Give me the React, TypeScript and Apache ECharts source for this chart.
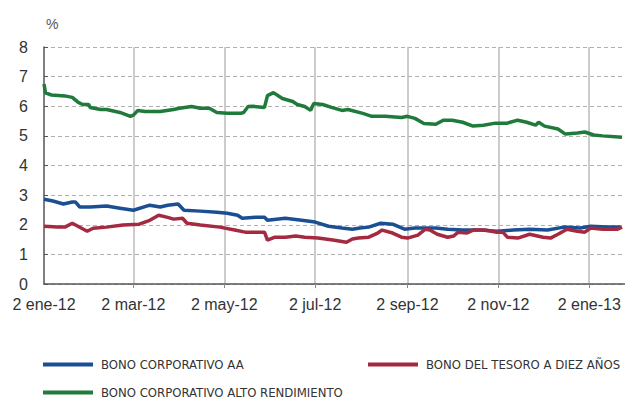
import React, { useEffect, useRef } from "react";
import * as echarts from "echarts";

// Day offsets counted from 2 ene-12 (day 0)
const START_DATE = { y: 2012, m: 0, d: 2 };
const DAY_COUNT = 391;
const LABEL_DAYS = [0, 60, 121, 182, 244, 305, 366];
const MONTHS_ES = ["ene", "feb", "mar", "abr", "may", "jun", "jul", "ago", "sep", "oct", "nov", "dic"];

const NAME_AA = "BONO CORPORATIVO AA";
const NAME_TESORO = "BONO DEL TESORO A DIEZ AÑOS";
const NAME_HY = "BONO CORPORATIVO ALTO RENDIMIENTO";

// [day, value]
const highYield: [number, number][] = [
  [0, 6.75], [1, 6.45], [5, 6.38], [14, 6.35], [19, 6.3], [23, 6.13], [26, 6.06], [30, 6.06],
  [31, 5.96], [38, 5.89], [42, 5.89], [51, 5.79], [58, 5.66], [60, 5.7], [63, 5.86], [68, 5.82],
  [78, 5.82], [87, 5.89], [91, 5.93], [99, 5.99], [105, 5.93], [111, 5.93], [116, 5.79], [123, 5.76],
  [132, 5.76], [134, 5.79], [137, 5.99], [140, 6.0], [148, 5.96], [150, 6.36], [154, 6.46], [160, 6.26],
  [167, 6.16], [170, 6.06], [175, 5.99], [179, 5.86], [181, 6.09], [187, 6.06], [193, 5.96], [200, 5.86],
  [204, 5.89], [214, 5.76], [220, 5.66], [229, 5.66], [240, 5.62], [244, 5.66], [249, 5.59], [255, 5.42],
  [263, 5.39], [268, 5.53], [274, 5.53], [281, 5.46], [288, 5.33], [295, 5.36], [303, 5.43], [311, 5.43],
  [318, 5.53], [324, 5.46], [330, 5.36], [332, 5.46], [336, 5.33], [345, 5.23], [350, 5.06], [358, 5.1],
  [363, 5.13], [369, 5.03], [375, 5.0], [388, 4.95],
];

const corporateAA: [number, number][] = [
  [0, 2.86], [6, 2.8], [13, 2.7], [19, 2.77], [21, 2.77], [24, 2.6], [31, 2.6], [42, 2.63],
  [51, 2.56], [60, 2.49], [71, 2.66], [78, 2.6], [83, 2.66], [90, 2.7], [94, 2.49], [105, 2.46],
  [116, 2.42], [123, 2.39], [130, 2.32], [133, 2.22], [142, 2.25], [148, 2.25], [150, 2.15], [162, 2.22],
  [173, 2.15], [182, 2.09], [191, 1.95], [200, 1.89], [207, 1.85], [212, 1.89], [218, 1.92], [226, 2.05],
  [234, 2.02], [242, 1.85], [249, 1.89], [263, 1.89], [271, 1.85], [281, 1.82], [293, 1.82], [304, 1.78],
  [315, 1.82], [326, 1.85], [338, 1.82], [349, 1.92], [360, 1.89], [367, 1.95], [378, 1.92], [387, 1.92],
];

const treasury10y: [number, number][] = [
  [0, 1.95], [9, 1.92], [14, 1.92], [19, 2.05], [29, 1.78], [33, 1.88], [42, 1.92], [53, 1.99],
  [64, 2.02], [71, 2.15], [77, 2.32], [83, 2.25], [87, 2.19], [93, 2.22], [96, 2.05], [105, 1.99],
  [118, 1.92], [128, 1.82], [135, 1.75], [142, 1.75], [148, 1.75], [150, 1.48], [155, 1.58], [162, 1.58],
  [169, 1.62], [175, 1.58], [184, 1.55], [195, 1.48], [203, 1.41], [207, 1.52], [211, 1.55], [218, 1.58],
  [224, 1.72], [227, 1.82], [234, 1.72], [240, 1.58], [244, 1.55], [251, 1.65], [256, 1.85], [259, 1.82],
  [264, 1.68], [271, 1.58], [275, 1.62], [278, 1.75], [284, 1.72], [288, 1.82], [296, 1.82], [304, 1.75],
  [308, 1.75], [311, 1.58], [318, 1.55], [326, 1.68], [335, 1.58], [340, 1.55], [345, 1.68], [351, 1.85],
  [358, 1.78], [363, 1.75], [367, 1.89], [375, 1.85], [385, 1.85], [388, 1.92],
];

const COLOR_AA = "#1b4f93";
const COLOR_TESORO = "#a32a40";
const COLOR_HY = "#1f7a3c";

function buildCategories(): string[] {
  const out: string[] = [];
  for (let i = 0; i < DAY_COUNT; i++) {
    const dt = new Date(Date.UTC(START_DATE.y, START_DATE.m, START_DATE.d + i));
    out.push(`${dt.getUTCDate()} ${MONTHS_ES[dt.getUTCMonth()]}-${String(dt.getUTCFullYear()).slice(2)}`);
  }
  return out;
}

const LEGEND_FONT = "'Liberation Sans Narrow', 'DejaVu Sans Condensed', 'Liberation Sans', sans-serif";
const AXIS_FONT = "'Liberation Sans', Arial, Helvetica, sans-serif";

export default function App() {
  const ref = useRef<HTMLDivElement>(null);
  useEffect(() => {
    if (!ref.current) return;
    const chart = echarts.init(ref.current, undefined, { renderer: "svg" });
    const categories = buildCategories();
    const isLabelDay = (i: number) => LABEL_DAYS.includes(i);
    const legendBase = {
      icon: "rect",
      itemWidth: 50,
      itemHeight: 4,
      orient: "horizontal" as const,
      selectedMode: false,
      padding: 0,
      textStyle: { fontSize: 13, color: "#333", fontFamily: LEGEND_FONT, padding: [0, 0, 0, 3] },
    };
    chart.setOption({
      animation: false,
      backgroundColor: "#ffffff",
      grid: { left: 44, right: 0, top: 47, bottom: 116, containLabel: false },
      legend: [
        { ...legendBase, left: 43, top: 358, data: [NAME_AA] },
        { ...legendBase, left: 368, top: 358, data: [NAME_TESORO] },
        { ...legendBase, left: 43, top: 386, data: [NAME_HY] },
      ],
      xAxis: {
        type: "category",
        data: categories,
        boundaryGap: false,
        axisLine: { show: true, lineStyle: { color: "#555", width: 1.5 } },
        axisTick: { show: true, interval: (i: number) => isLabelDay(i) && i > 0, length: 4, lineStyle: { color: "#888" } },
        axisLabel: {
          interval: (i: number) => isLabelDay(i),
          fontSize: 16,
          color: "#333",
          fontFamily: AXIS_FONT,
          margin: 12,
        },
        splitLine: { show: true, interval: (i: number) => isLabelDay(i) && i > 0, lineStyle: { color: "#bbb", width: 1.5 } },
      },
      yAxis: {
        type: "value",
        min: 0,
        max: 8,
        interval: 1,
        name: "%",
        nameLocation: "end",
        nameGap: 16,
        nameTextStyle: { fontSize: 14, color: "#555", align: "left", fontFamily: AXIS_FONT, padding: [0, 0, 0, 2] },
        axisLine: { show: true, lineStyle: { color: "#555", width: 1.5 } },
        axisTick: { show: true, inside: true, length: 4, lineStyle: { color: "#555" } },
        axisLabel: { fontSize: 16, color: "#333", margin: 16, fontFamily: AXIS_FONT },
        splitLine: { show: true, lineStyle: { color: "#b0b0b0", type: [4, 3], width: 1 } },
      },
      series: [
        {
          name: NAME_HY, type: "line", data: highYield, showSymbol: false, symbol: "none",
          lineStyle: { color: COLOR_HY, width: 3.5 }, itemStyle: { color: COLOR_HY },
        },
        {
          name: NAME_AA, type: "line", data: corporateAA, showSymbol: false, symbol: "none",
          lineStyle: { color: COLOR_AA, width: 3.5 }, itemStyle: { color: COLOR_AA },
        },
        {
          name: NAME_TESORO, type: "line", data: treasury10y, showSymbol: false, symbol: "none",
          lineStyle: { color: COLOR_TESORO, width: 3.5 }, itemStyle: { color: COLOR_TESORO },
        },
      ],
    });
    return () => chart.dispose();
  }, []);
  return (
    <div
      ref={ref}
      style={{ position: "fixed", left: 0, top: 0, width: 625, height: 400, background: "#fff" }}
    />
  );
}
